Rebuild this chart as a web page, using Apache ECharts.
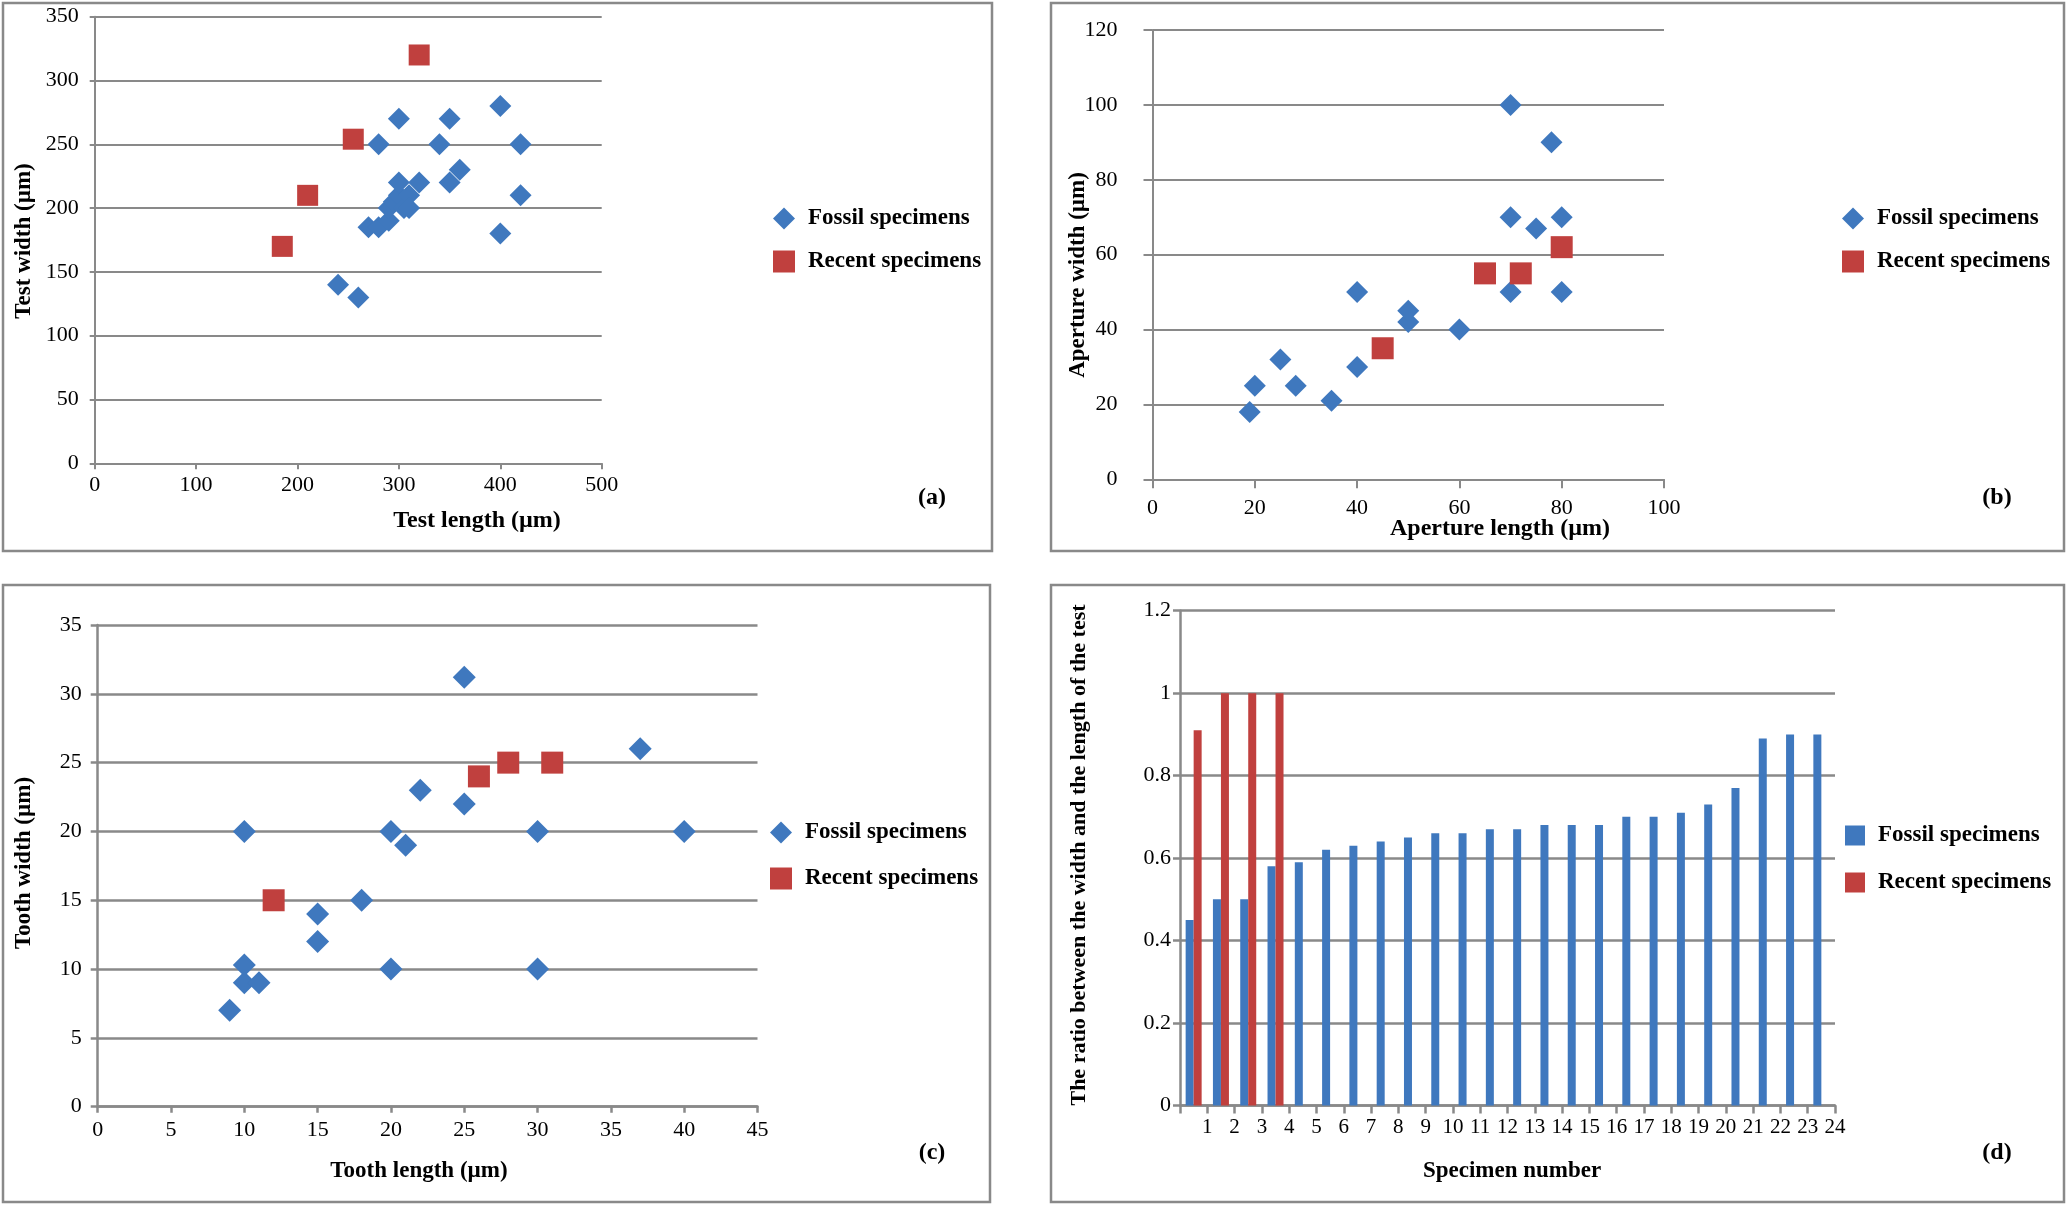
<!DOCTYPE html>
<html>
<head>
<meta charset="utf-8">
<script src="https://cdn.jsdelivr.net/npm/echarts@6/dist/echarts.min.js"></script>
<style>
html,body{margin:0;padding:0;background:#fff;}
#chart{width:2067px;height:1205px;}
</style>
</head>
<body>
<div id="chart"></div>
<script>
// ---------- DATA ----------
// (a) Test length vs test width (µm)
const testFossil = [[240,140],[260,130],[270,185],[280,185],[280,250],[290,190],[290,200],[295,205],[300,210],[300,220],[300,270],[305,200],[310,210],[310,200],[320,220],[340,250],[350,220],[350,270],[360,230],[400,180],[400,280],[420,210],[420,250]];
const testRecent = [[185,170],[210,210],[255,254],[320,320]];
// (b) Aperture length vs aperture width (µm)
const apertureFossil = [[19,18],[20,25],[25,32],[28,25],[35,21],[40,30],[40,50],[50,42],[50,45],[60,40],[70,50],[70,70],[70,100],[75,67],[78,90],[80,70],[80,50]];
const apertureRecent = [[45,35],[65,55],[72,55],[80,62]];
// (c) Tooth length vs tooth width (µm)
const toothFossil = [[9,7],[10,9],[10,10.3],[10,20],[11,9],[15,12],[15,14],[18,15],[20,10],[20,20],[21,19],[22,23],[25,22],[25,31.2],[30,10],[30,20],[37,26],[40,20]];
const toothRecent = [[12,15],[26,24],[28,25],[31,25]];
// (d) Width / length ratio per specimen
const specimenNumbers = ['1','2','3','4','5','6','7','8','9','10','11','12','13','14','15','16','17','18','19','20','21','22','23','24'];
const ratioFossil = [0.45,0.50,0.50,0.58,0.59,0.62,0.63,0.64,0.65,0.66,0.66,0.67,0.67,0.68,0.68,0.68,0.70,0.70,0.71,0.73,0.77,0.89,0.90,0.90];
const ratioRecent = [0.91,1,1,1];

const seriesNames = ['Fossil specimens','Recent specimens'];

// ---------- STYLE ----------
const FONT = '"Liberation Serif", "Times New Roman", serif';
const GRAY = '#898989';
const BLUE = '#3f78be';
const RED = '#c0403e';

function valueAxis(grid, min, max, interval, opts) {
  opts = opts || {};
  return {
    type: 'value', gridIndex: grid, min: min, max: max, interval: interval,
    axisLine: {show: true, onZero: false, lineStyle: {color: GRAY, width: opts.lw || 2}},
    axisTick: {show: true, length: opts.tick || 6, lineStyle: {color: GRAY, width: opts.lw || 2}},
    splitLine: {show: !!opts.split, lineStyle: {color: GRAY, width: opts.lw || 2}},
    axisLabel: {color: '#000', fontFamily: FONT, fontSize: opts.fs || 22, margin: opts.margin || 12,
      showMinLabel: true, showMaxLabel: true},
  };
}

const chart = echarts.init(document.getElementById('chart'));

const grids = [
  {left: 94.7, top: 16.7, width: 507, height: 446.6},
  {left: 1152.5, top: 30, width: 511.5, height: 449.3},
  {left: 97.7, top: 625, width: 659.8, height: 481.7},
  {left: 1180, top: 610.7, width: 655, height: 494.7}
];

const xAxes = [
  valueAxis(0, 0, 500, 100, {margin: 11, tick: 6}),
  valueAxis(1, 0, 100, 20, {margin: 18, tick: 9}),
  valueAxis(2, 0, 45, 5, {margin: 13, tick: 6, lw: 2.5}),
  {
    type: 'category', gridIndex: 3, data: specimenNumbers,
    axisLine: {lineStyle: {color: GRAY, width: 2.5}},
    axisTick: {show: true, interval: 0, length: 8, lineStyle: {color: GRAY, width: 2.5}},
    axisLabel: {show: false}
  },
  {
    type: 'value', gridIndex: 3, min: 0, max: 24, interval: 1, position: 'bottom',
    axisLine: {show: false}, axisTick: {show: false}, splitLine: {show: false},
    axisLabel: {color: '#000', fontFamily: FONT, fontSize: 21, margin: 12,
      formatter: function (v) { return v === 0 ? '' : specimenNumbers[v - 1]; }}
  }
];

const yAxes = [
  valueAxis(0, 0, 350, 50, {split: true, margin: 16, tick: 5}),
  valueAxis(1, 0, 120, 20, {split: true, margin: 35, tick: 9}),
  valueAxis(2, 0, 35, 5, {split: true, margin: 16, tick: 7, lw: 2.5}),
  valueAxis(3, 0, 1.2, 0.2, {split: true, margin: 9, tick: 7, lw: 2.5})
];

function scatter(name, data, idx, symbol, size, color) {
  return {
    type: 'scatter', name: name, data: data, xAxisIndex: idx, yAxisIndex: idx,
    symbol: symbol, symbolSize: size,
    itemStyle: {color: color, opacity: 1},
    emphasis: {disabled: true}, silent: true, z: 3
  };
}

const series = [
  scatter(seriesNames[0], testFossil, 0, 'diamond', 22, BLUE),
  scatter(seriesNames[1], testRecent, 0, 'rect', 21, RED),
  scatter(seriesNames[0], apertureFossil, 1, 'diamond', 22, BLUE),
  scatter(seriesNames[1], apertureRecent, 1, 'rect', 22, RED),
  scatter(seriesNames[0], toothFossil, 2, 'diamond', 23, BLUE),
  scatter(seriesNames[1], toothRecent, 2, 'rect', 22, RED),
  {type: 'bar', name: seriesNames[0], data: ratioFossil, xAxisIndex: 3, yAxisIndex: 3,
   barWidth: 8, barGap: '0%', itemStyle: {color: BLUE}, silent: true},
  {type: 'bar', name: seriesNames[1], data: ratioRecent, xAxisIndex: 3, yAxisIndex: 3,
   barWidth: 8, barGap: '0%', itemStyle: {color: RED}, silent: true}
];

function legend(left, top, icon0, icon1, size, gap) {
  return {
    orient: 'vertical', left: left, top: top, selectedMode: false,
    itemWidth: size, itemHeight: size, itemGap: gap,
    textStyle: {fontFamily: FONT, fontSize: 23, fontWeight: 'bold', color: '#000', lineHeight: 22,
      padding: [0, 0, 0, 8]},
    data: [{name: seriesNames[0], icon: icon0}, {name: seriesNames[1], icon: icon1}]
  };
}

const legends = [
  legend(768, 202, 'diamond', 'rect', 22, 20),
  legend(1837, 202, 'diamond', 'rect', 22, 20),
  legend(765, 816, 'diamond', 'rect', 22, 23),
  legend(1840, 819, 'rect', 'rect', 20, 24)
];

function txt(text, x, y, rotate, size) {
  return {
    type: 'text', x: x, y: y, rotation: rotate ? Math.PI / 2 : 0, silent: true,
    style: {text: text, font: 'bold ' + (size || 23) + 'px ' + FONT, fill: '#000',
      textAlign: 'center', textVerticalAlign: 'middle'}
  };
}
function box(x, y, w, h) {
  return {type: 'rect', silent: true, shape: {x: x, y: y, width: w, height: h},
    style: {fill: 'none', stroke: GRAY, lineWidth: 2.5}};
}

const graphics = [
  box(3, 3, 989, 548),
  box(1051, 3, 1013, 548),
  box(3, 585, 987, 617),
  box(1051, 585, 1013, 617),
  txt('Test length (µm)', 477, 521, false, 24),
  txt('Test width (µm)', 24, 241, true),
  txt('(a)', 932, 498, false, 24),
  txt('Aperture length (µm)', 1500, 529, false, 24),
  txt('Aperture width (µm)', 1078, 275, true),
  txt('(b)', 1997, 498, false, 24),
  txt('Tooth length (µm)', 419, 1171),
  txt('Tooth width (µm)', 24, 863, true),
  txt('(c)', 932, 1153, false, 24),
  txt('Specimen number', 1512, 1171),
  txt('The ratio between the width and the length of the test', 1079, 855, true, 22),
  txt('(d)', 1997, 1153, false, 24)
];

chart.setOption({
  animation: false,
  backgroundColor: '#fff',
  grid: grids,
  xAxis: xAxes,
  yAxis: yAxes,
  legend: legends,
  series: series,
  graphic: graphics
});
</script>
</body>
</html>
